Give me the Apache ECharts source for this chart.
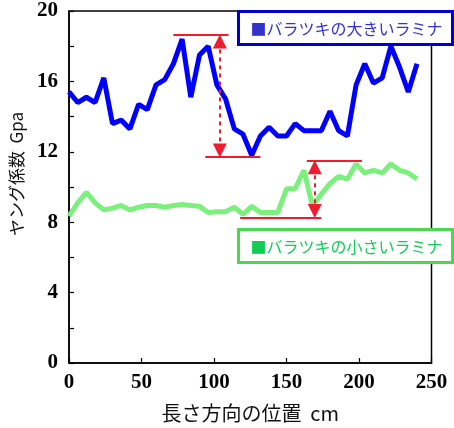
<!DOCTYPE html>
<html><head><meta charset="utf-8">
<script src="https://cdn.jsdelivr.net/npm/echarts@6/dist/echarts.min.js"></script>
<style>html,body{margin:0;padding:0;background:#fff}#c{width:454px;height:428px}</style>
</head><body><div id="c"></div>
<script>
// Position along length (cm)
const positions = [0,6,12,18,24,30,36,42,48,54,60,66,72,78,84,90,96,102,108,114,120,126,132,138,144,150,156,162,168,174,180,186,192,198,204,210,216,222,228,234,240];
// Young's modulus (GPa) – large-variation lamina
const largeVar = [15.4,14.8,15.1,14.8,16.2,13.6,13.8,13.3,14.7,14.4,15.8,16.1,17.0,18.4,15.1,17.5,18.0,15.8,15.0,13.3,13.0,11.8,12.9,13.4,12.9,12.9,13.6,13.2,13.2,13.2,14.3,13.2,12.9,15.8,17.0,15.9,16.2,18.0,16.8,15.4,17.0];
// Young's modulus (GPa) – small-variation lamina
const smallVar = [8.35,9.1,9.7,9.1,8.7,8.8,8.95,8.7,8.85,8.95,8.95,8.85,8.95,9.0,8.95,8.9,8.55,8.6,8.6,8.85,8.45,8.9,8.55,8.55,8.55,9.9,9.9,10.95,8.9,9.6,10.2,10.6,10.45,11.3,10.8,10.95,10.8,11.3,10.95,10.8,10.45];
const xTicks = [0,50,100,150,200,250];
const yTicks = [0,4,8,12,16,20];
// Range brackets: [maxValue, minValue]
const largeRange = [18.65, 11.7];
const largeRangeTopX = [72, 110];
const largeRangeBottomX = [94, 132];
const largeArrowX = 104;
const smallRange = [11.5, 8.25];
const smallRangeTopX = [164, 202];
const smallRangeBottomX = [118, 174];
const smallArrowX = 169.5;
const legendLarge = '■バラツキの大きいラミナ';
const legendSmall = '■バラツキの小さいラミナ';

const red = '#ee1c2e';
const arrowHalf = 0.38; // half arrow-head length in data units so the tip meets the bracket line
const chart = echarts.init(document.getElementById('c'), null, {renderer:'canvas'});
const hline = (xs, y) => [{coord:[xs[0], y], symbol:'none'}, {coord:[xs[1], y], symbol:'none'}];
const arrow = (x, r) => [{coord:[x, r[0]-arrowHalf], symbol:'triangle'}, {coord:[x, r[1]+arrowHalf], symbol:'triangle'}];

chart.setOption({
  animation:false,
  grid:{left:69, right:22.5, top:11, bottom:64, show:true, borderColor:'#000', borderWidth:1.5, backgroundColor:'transparent'},
  xAxis:{type:'value', min:xTicks[0], max:xTicks[xTicks.length-1], interval:50,
    name:'長さ方向の位置  cm', nameLocation:'middle', nameGap:40,
    nameTextStyle:{fontFamily:'Noto Sans CJK JP', fontSize:20, color:'#111'},
    axisLine:{lineStyle:{color:'#000', width:1.5}},
    axisTick:{inside:true, length:5, lineStyle:{color:'#000', width:1.2}},
    axisLabel:{fontFamily:'Liberation Serif', fontWeight:'bold', fontSize:21, color:'#000', margin:9},
    splitLine:{show:false}},
  yAxis:{type:'value', min:0, max:20, interval:2,
    name:'ヤング係数  Gpa', nameLocation:'middle', nameGap:44, nameRotate:90,
    nameTextStyle:{fontFamily:'Noto Sans CJK JP', fontSize:17, color:'#111', padding:[0,0,0,26]},
    axisLine:{lineStyle:{color:'#000', width:1.5}},
    axisTick:{inside:true, length:5, lineStyle:{color:'#000', width:1.2}},
    axisLabel:{fontFamily:'Liberation Serif', fontWeight:'bold', fontSize:21, color:'#000', margin:11,
      formatter:v => yTicks.includes(v) ? String(v) : ''},
    splitLine:{show:false}},
  series:[
    {type:'line', data:positions.map((x,i)=>[x, largeVar[i]]), symbol:'none',
      lineStyle:{color:'#0000ff', width:5}, z:3,
      markLine:{silent:true, animation:false, label:{show:false},
        lineStyle:{color:red, width:2, type:'solid'},
        data:[hline(largeRangeTopX, largeRange[0]), hline(largeRangeBottomX, largeRange[1]),
              hline(smallRangeTopX, smallRange[0]), hline(smallRangeBottomX, smallRange[1])]}},
    {type:'line', data:positions.map((x,i)=>[x, smallVar[i]]), symbol:'none',
      lineStyle:{color:'#7cf07c', width:5}, z:3,
      markLine:{silent:true, animation:false, label:{show:false},
        symbolSize:[14,14],
        lineStyle:{color:red, width:2, type:[4,4]},
        itemStyle:{color:'#e8001c'},
        data:[arrow(largeArrowX, largeRange), arrow(smallArrowX, smallRange)]}}
  ],
  graphic:[
    {type:'group', left:237, top:10, z:100, children:[
      {type:'rect', shape:{x:0,y:0,width:214,height:33}, style:{fill:'#fff', stroke:'#0000cc', lineWidth:3}},
      {type:'text', x:12, y:17, style:{text:legendLarge, fill:'#3333cc', font:'16px "Noto Sans CJK JP"', verticalAlign:'middle'}}
    ]},
    {type:'group', left:237, top:228, z:100, children:[
      {type:'rect', shape:{x:0,y:0,width:214,height:33}, style:{fill:'#fff', stroke:'#4cd84c', lineWidth:3}},
      {type:'text', x:12, y:17, style:{text:legendSmall, fill:'#11cc55', font:'16px "Noto Sans CJK JP"', verticalAlign:'middle'}}
    ]}
  ]
});
</script></body></html>
